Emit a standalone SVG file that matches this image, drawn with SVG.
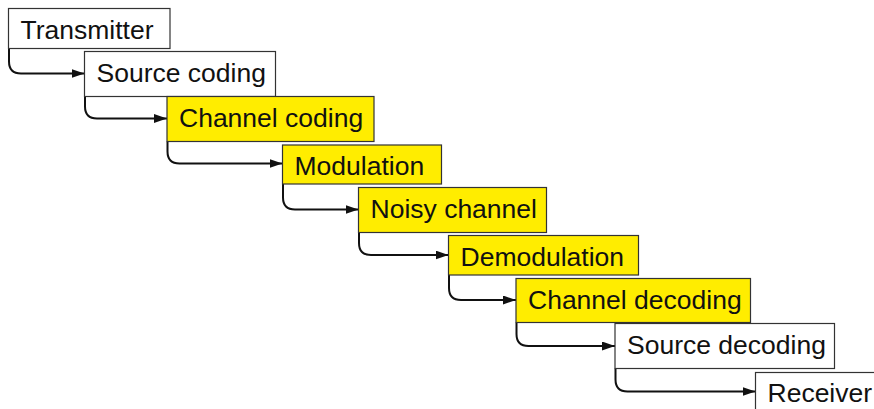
<svg xmlns="http://www.w3.org/2000/svg" width="874" height="409" viewBox="0 0 874 409">
  <style>
    .box { fill: #ffffff; stroke: #333333; stroke-width: 1.2; }
    .hl { fill: #ffed00; }
    .lbl { font-family: "Liberation Sans", Arial, sans-serif; font-size: 26.5px; fill: #111111; }
    .conn { fill: none; stroke: #111111; stroke-width: 2; }
  </style>
  <defs>
    <marker id="arrow" viewBox="0 0 13 9" refX="13" refY="4.5" markerWidth="13" markerHeight="9" markerUnits="userSpaceOnUse" orient="auto">
      <path d="M0,0 L13,4.5 L0,9 Z" fill="#111111"/>
    </marker>
  </defs>
  <rect width="874" height="409" fill="#ffffff"/>

  <!-- elbow connectors: down from each box's left edge, round the corner, into the next box -->
  <g id="connectors">
    <path class="conn" marker-end="url(#arrow)" d="M9,48.5 V61.5 Q9,73.5 21,73.5 H84.5"/>
    <path class="conn" marker-end="url(#arrow)" d="M85,96.5 V106.5 Q85,118.5 97,118.5 H167"/>
    <path class="conn" marker-end="url(#arrow)" d="M167.5,141.5 V151.5 Q167.5,163.5 179.5,163.5 H282.5"/>
    <path class="conn" marker-end="url(#arrow)" d="M283,184 V197.5 Q283,209.5 295,209.5 H358.5"/>
    <path class="conn" marker-end="url(#arrow)" d="M359,232.5 V243 Q359,255 371,255 H448.5"/>
    <path class="conn" marker-end="url(#arrow)" d="M449,275 V288 Q449,300 461,300 H516"/>
    <path class="conn" marker-end="url(#arrow)" d="M516.5,322.5 V334 Q516.5,346 528.5,346 H615"/>
    <path class="conn" marker-end="url(#arrow)" d="M615.5,368.5 V379.5 Q615.5,391.5 627.5,391.5 H755.5"/>
  </g>

  <g id="transmitter">
    <rect class="box" x="8.5" y="8.5" width="161.5" height="40"/>
    <text class="lbl" x="20.5" y="38.5">Transmitter</text>
  </g>
  <g id="source-coding">
    <rect class="box" x="84.5" y="51.5" width="191" height="45"/>
    <text class="lbl" x="96.5" y="81.5">Source coding</text>
  </g>
  <g id="channel-coding">
    <rect class="box hl" x="167" y="96.5" width="207" height="45"/>
    <text class="lbl" x="179" y="126.5">Channel coding</text>
  </g>
  <g id="modulation">
    <rect class="box hl" x="282.5" y="145" width="159" height="39"/>
    <text class="lbl" x="294.5" y="175">Modulation</text>
  </g>
  <g id="noisy-channel">
    <rect class="box hl" x="358.5" y="187.5" width="188" height="45"/>
    <text class="lbl" x="370.5" y="217.5">Noisy channel</text>
  </g>
  <g id="demodulation">
    <rect class="box hl" x="448.5" y="235.5" width="190" height="39.5"/>
    <text class="lbl" x="460.5" y="265.5">Demodulation</text>
  </g>
  <g id="channel-decoding">
    <rect class="box hl" x="516" y="278.5" width="234.5" height="44"/>
    <text class="lbl" x="528" y="308.5">Channel decoding</text>
  </g>
  <g id="source-decoding">
    <rect class="box" x="615" y="323.5" width="219.5" height="45"/>
    <text class="lbl" x="627" y="353.5">Source decoding</text>
  </g>
  <g id="receiver">
    <rect class="box" x="755.5" y="372.5" width="130" height="42"/>
    <text class="lbl" x="767.5" y="402">Receiver</text>
  </g>
</svg>
